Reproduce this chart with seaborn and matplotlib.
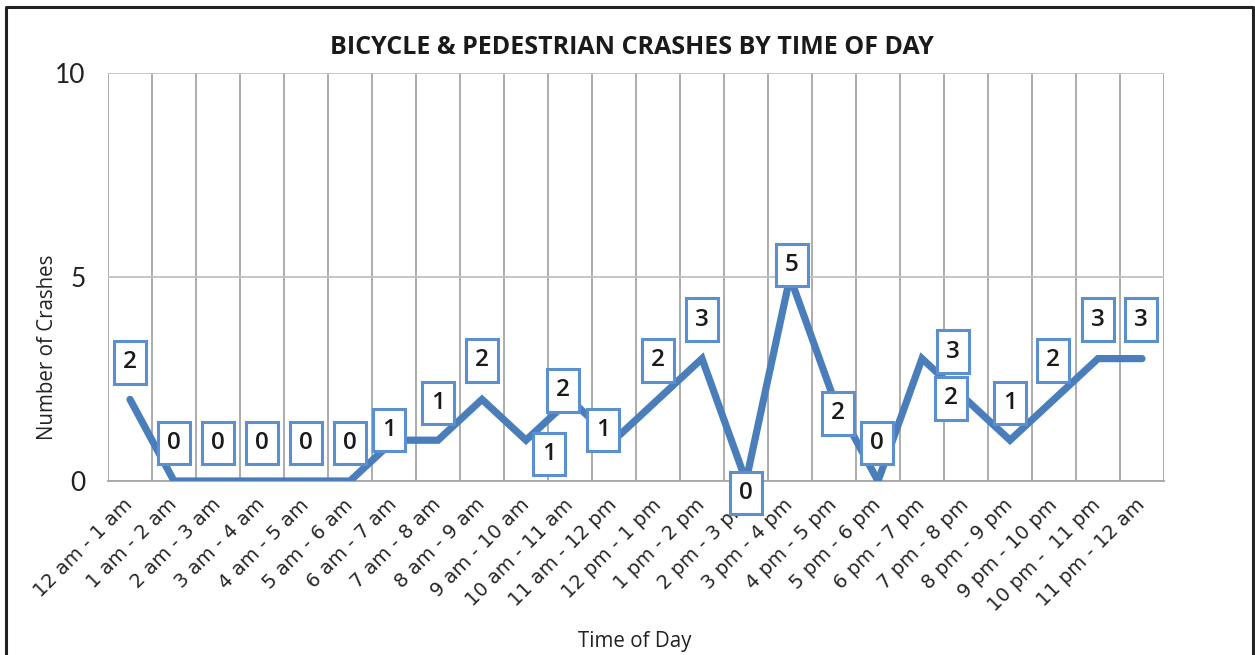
import matplotlib
matplotlib.use('Agg')
import matplotlib.pyplot as plt
from matplotlib.lines import Line2D
import seaborn as sns
import pandas as pd

# data
hours = ['12 am - 1 am', '1 am - 2 am', '2 am - 3 am', '3 am - 4 am', '4 am - 5 am',
         '5 am - 6 am', '6 am - 7 am', '7 am - 8 am', '8 am - 9 am', '9 am - 10 am',
         '10 am - 11 am', '11 am - 12 pm', '12 pm - 1 pm', '1 pm - 2 pm', '2 pm - 3 pm',
         '3 pm - 4 pm', '4 pm - 5 pm', '5 pm - 6 pm', '6 pm - 7 pm', '7 pm - 8 pm',
         '8 pm - 9 pm', '9 pm - 10 pm', '10 pm -  11 pm', '11 pm - 12 am']
crashes = [2, 0, 0, 0, 0, 0, 1, 1, 2, 1, 2, 1, 2, 3, 0, 5, 2, 0, 3, 2, 1, 2, 3, 3]
y_ticks = [0, 5, 10]

# label offsets (pixels) - labels were moved by hand in the original
label_dx = [0, 0, 0, 0, 0, 0, -5, 0, 0, 23, -7, -11, 0, 0, 0, 2, 4, -1, 31, -15, 0, -1, 0, -1]
label_dy = [37, 38, 38, 38, 38, 38, 10, 37, 39, -14, 9, 10, 39, 39, -12, 12, -14, 38, 7, 1, 37, 39, 39, 39]

df = pd.DataFrame({'hour': range(len(hours)), 'crashes': crashes})

sns.set_style('white')
plt.rcParams['font.family'] = ['Open Sans', 'DejaVu Sans']

line_color = '#4a7ebb'
grid_color = '#a6a6a6'

fig = plt.figure(figsize=(12.55, 6.55), dpi=100)
ax = fig.add_axes([108 / 1255, 1 - 481 / 655, (1164 - 108) / 1255, (481 - 73) / 655])

sns.lineplot(data=df, x='hour', y='crashes', ax=ax, color=line_color, linewidth=5.2,
             solid_capstyle='round', solid_joinstyle='miter', zorder=3)

ax.set_xlim(-0.5, len(hours) - 0.5)
ax.set_ylim(0, 10)

# category boundaries as vertical grid
ax.set_xticks([i - 0.5 for i in range(len(hours) + 1)], minor=True)
ax.set_xticks(range(len(hours)))
ax.set_xticklabels(hours, rotation=45, ha='right', va='center', rotation_mode='anchor',
                   fontsize=14, family='DejaVu Sans', color='#262626')
ax.tick_params(axis='x', which='major', length=0, pad=15)
ax.tick_params(axis='x', which='minor', length=6, width=1.3, color=grid_color, direction='out')
ax.grid(True, axis='x', which='minor', color=grid_color, linewidth=1.3)

ax.set_yticks(y_ticks)
ax.set_yticklabels([str(t) for t in y_ticks], fontsize=19, family='Lato', color='#222222')
ax.tick_params(axis='y', length=8, width=1.3, color=grid_color, pad=8)
ax.grid(True, axis='y', which='major', color='#c0c0c0', linewidth=1.3)

for s in ['top', 'right', 'left']:
    ax.spines[s].set_visible(False)
ax.spines['bottom'].set_color(grid_color)
ax.spines['bottom'].set_linewidth(1.3)

ax.set_xlabel('')
ax.set_ylabel('')

# data labels
for i, v in enumerate(crashes):
    ax.annotate(str(v), (i, v), xytext=(label_dx[i], label_dy[i]), textcoords='offset pixels',
                ha='center', va='center', fontsize=17.5, fontweight='semibold', color='#1a1a1a',
                bbox=dict(boxstyle='square,pad=0.38', fc='white', ec='#5b8fd0', lw=2.2),
                zorder=5)

fig.text(632 / 1255, 1 - 47 / 655, 'BICYCLE & PEDESTRIAN CRASHES BY TIME OF DAY',
         ha='center', va='center', fontsize=18, fontweight='bold', color='#1a1a1a')
fig.text(48 / 1255, 1 - 347 / 655, 'Number of Crashes', rotation=90, ha='center', va='center',
         fontsize=14.8, color='#222222')
fig.text(635 / 1255, 1 - 641 / 655, 'Time of Day', ha='center', va='center',
         fontsize=14.8, color='#222222')

# outer frame (left, top, right)
fx0, fx1, fy1 = 6 / 1255, 1253 / 1255, 1 - 7 / 655
fig.add_artist(Line2D([fx0, fx0, fx1, fx1], [0, fy1, fy1, 0], color='#222222', linewidth=2.2,
                      transform=fig.transFigure))

fig.savefig('out.png', dpi=100)
